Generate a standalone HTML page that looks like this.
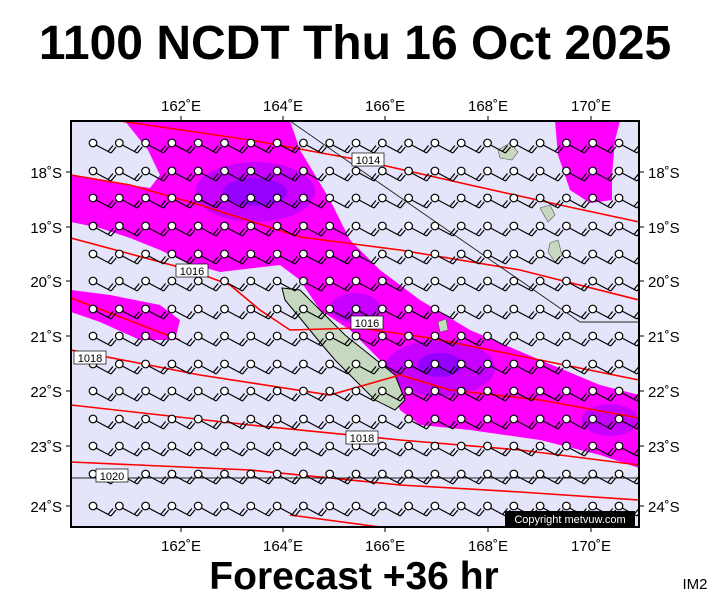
<!DOCTYPE html>
<html><head><meta charset="utf-8"><style>
body{margin:0;background:#fff;width:711px;height:600px;overflow:hidden;font-family:"Liberation Sans",sans-serif}
</style></head><body>
<svg width="711" height="600" xmlns="http://www.w3.org/2000/svg" font-family="Liberation Sans, sans-serif">
<rect width="711" height="600" fill="#fff"/>
<text x="355" y="59" font-size="48" font-weight="bold" text-anchor="middle">1100 NCDT Thu 16 Oct 2025</text>
<text x="354" y="589" font-size="39" font-weight="bold" text-anchor="middle">Forecast +36 hr</text>
<text x="695" y="589" font-size="15" text-anchor="middle">IM2</text>
<defs><clipPath id="c"><rect x="71" y="121" width="568" height="406"/></clipPath></defs>
<g clip-path="url(#c)">
<rect x="71" y="121" width="568" height="406" fill="#e4e4fa"/>
<g fill="#ff00ff">
<path d="M125,121 L290,121 L300,150 L330,200 L350,240 L380,270 L420,300 L470,330 L540,360 L600,385 L639,395 L639,468 L600,455 L540,440 L470,430 L420,425 L400,410 L380,360 L350,330 L320,310 L300,280 L280,265 L220,272 L185,262 L160,250 L130,238 L100,228 L71,222 L71,175 L110,182 L150,188 L160,175 L148,150 Z"/>
<path d="M71,290 L110,295 L160,305 L180,320 L175,340 L140,340 L100,322 L71,312 Z"/>
<path d="M555,121 L620,121 L615,140 L612,175 L612,200 L590,203 L570,190 L558,155 Z"/>
</g>
<g fill="#b000ff" opacity="0.7">
<ellipse cx="255" cy="192" rx="60" ry="30"/>
<ellipse cx="440" cy="368" rx="55" ry="28"/>
<ellipse cx="355" cy="308" rx="25" ry="15"/>
<ellipse cx="610" cy="420" rx="28" ry="16"/>
</g>
<g fill="#8000ff" opacity="0.7">
<ellipse cx="255" cy="192" rx="32" ry="14"/>
<ellipse cx="440" cy="365" rx="22" ry="12"/>
</g>
<path d="M282,288 L300,290 L320,310 L345,335 L370,355 L395,375 L405,400 L395,410 L375,400 L355,380 L335,360 L318,340 L300,318 L285,300 Z" fill="#c6d8c0" stroke="#000" stroke-width="1"/>
<path d="M498,150 L510,143 L518,152 L512,160 L500,158 Z" fill="#c6d8c0" stroke="#555" stroke-width="0.6"/>
<path d="M540,208 L550,205 L555,215 L548,222 Z M550,243 L558,240 L562,255 L555,262 L548,252 Z M438,322 L446,319 L448,330 L440,332 Z" fill="#c6d8c0" stroke="#555" stroke-width="0.6"/>
<g fill="none" stroke="#f00" stroke-width="1.6">
<path d="M120,121 L250,140 L360,160 L470,185 L560,205 L639,222"/>
<path d="M71,175 L130,185 L200,205 L300,237 L400,250 L520,270 L639,300"/>
<path d="M71,238 L190,270 L230,285 L260,310 L290,330 L360,328 L430,338 L530,358 L639,380"/>
<path d="M71,298 L180,340"/>
<path d="M71,350 L200,375 L330,395 L400,375 L450,390 L540,400 L639,418"/>
<path d="M71,405 L250,425 L400,440 L520,450 L639,465"/>
<path d="M71,462 L250,470 L400,485 L520,492 L639,500"/>
<path d="M290,515 L380,527"/>
</g>
<path d="M290,121 L580,322 L639,322" fill="none" stroke="#222" stroke-width="0.9"/>
<path d="M71,478 L639,478" stroke="#222" stroke-width="0.9"/>
<g id="barbs" stroke="#000" stroke-width="1.2" fill="none"></g>
<g font-size="11" text-anchor="middle">
<rect x="352" y="153" width="32" height="13" fill="#fff" stroke="#000" stroke-width="0.7"/><text x="368" y="164">1014</text>
<rect x="176" y="264" width="32" height="13" fill="#fff" stroke="#000" stroke-width="0.7"/><text x="192" y="275">1016</text>
<rect x="351" y="316" width="32" height="13" fill="#fff" stroke="#000" stroke-width="0.7"/><text x="367" y="327">1016</text>
<rect x="74" y="351" width="32" height="13" fill="#fff" stroke="#000" stroke-width="0.7"/><text x="90" y="362">1018</text>
<rect x="346" y="431" width="32" height="13" fill="#fff" stroke="#000" stroke-width="0.7"/><text x="362" y="442">1018</text>
<rect x="96" y="469" width="32" height="13" fill="#fff" stroke="#000" stroke-width="0.7"/><text x="112" y="480">1020</text>
</g>
<rect x="505" y="511" width="130" height="15" fill="#000"/>
<text x="570" y="523" font-size="11" fill="#fff" text-anchor="middle">Copyright metvuw.com</text>
</g>
<rect x="71" y="121" width="568" height="406" fill="none" stroke="#000" stroke-width="2"/>
<g stroke="#000" stroke-width="1">
<path d="M181,121v-5M283,121v-5M385,121v-5M488,121v-5M591,121v-5M181,527v5M283,527v5M385,527v5M488,527v5M591,527v5"/>
<path d="M71,172h-5M71,227h-5M71,281h-5M71,336h-5M71,391h-5M71,446h-5M71,506h-5M639,172h5M639,227h5M639,281h5M639,336h5M639,391h5M639,446h5M639,506h5"/>
</g>
<g font-size="15" text-anchor="middle">
<text x="181" y="111">162˚E</text><text x="283" y="111">164˚E</text><text x="385" y="111">166˚E</text><text x="488" y="111">168˚E</text><text x="591" y="111">170˚E</text>
<text x="181" y="551">162˚E</text><text x="283" y="551">164˚E</text><text x="385" y="551">166˚E</text><text x="488" y="551">168˚E</text><text x="591" y="551">170˚E</text>
</g>
<g font-size="15" text-anchor="end">
<text x="62" y="178">18˚S</text><text x="62" y="233">19˚S</text><text x="62" y="287">20˚S</text><text x="62" y="342">21˚S</text><text x="62" y="397">22˚S</text><text x="62" y="452">23˚S</text><text x="62" y="512">24˚S</text>
</g>
<g font-size="15">
<text x="648" y="178">18˚S</text><text x="648" y="233">19˚S</text><text x="648" y="287">20˚S</text><text x="648" y="342">21˚S</text><text x="648" y="397">22˚S</text><text x="648" y="452">23˚S</text><text x="648" y="512">24˚S</text>
</g>
</svg>
<script>
var g=document.getElementById('barbs'),s='';
var rows=[143,171,198,226,254,281,309,336,364,391,419,446,474,506];
for(var r=0;r<rows.length;r++){for(var i=0;i<21;i++){var x=93+26.3*i,y=rows[r];
var ex=x+18,ey=y+10;
s+='<line x1="'+(x+3)+'" y1="'+(y+2)+'" x2="'+ex+'" y2="'+ey+'"/>';
s+='<line x1="'+ex+'" y1="'+ey+'" x2="'+(ex+5)+'" y2="'+(ey-6)+'"/>';
s+='<line x1="'+(ex-3)+'" y1="'+(ey-1.5)+'" x2="'+(ex+2)+'" y2="'+(ey-7.5)+'"/>';
s+='<circle cx="'+x+'" cy="'+y+'" r="3.8" fill="#fff"/>';}}
g.innerHTML=s;
</script>
</body></html>
